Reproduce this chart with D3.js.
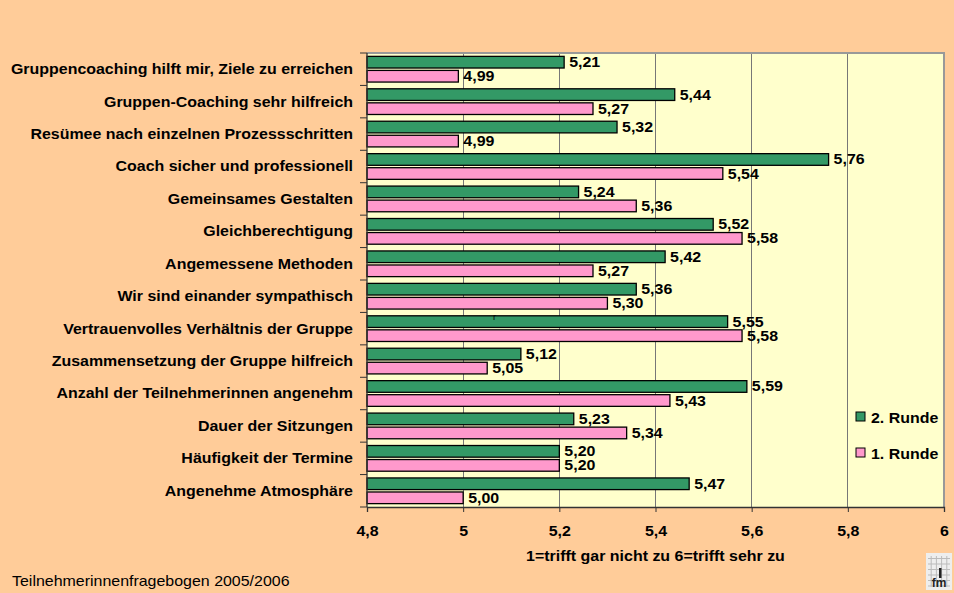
<!DOCTYPE html>
<html><head><meta charset="utf-8">
<script src="https://cdn.jsdelivr.net/npm/d3@7"></script>
<style>html,body{margin:0;padding:0;background:#FFCC99;}svg{display:block;font-family:"Liberation Sans",Arial,sans-serif;}</style>
</head><body>
<svg id="c" width="954" height="593"></svg>
<script>
const categories = [
  "Gruppencoaching hilft mir, Ziele zu erreichen",
  "Gruppen-Coaching sehr hilfreich",
  "Resümee nach einzelnen Prozessschritten",
  "Coach sicher und professionell",
  "Gemeinsames Gestalten",
  "Gleichberechtigung",
  "Angemessene Methoden",
  "Wir sind einander sympathisch",
  "Vertrauenvolles Verhältnis der Gruppe",
  "Zusammensetzung der Gruppe hilfreich",
  "Anzahl der Teilnehmerinnen angenehm",
  "Dauer der Sitzungen",
  "Häufigkeit der Termine",
  "Angenehme Atmosphäre"
];
const runde2 = [5.21,5.44,5.32,5.76,5.24,5.52,5.42,5.36,5.55,5.12,5.59,5.23,5.20,5.47];
const runde1 = [4.99,5.27,4.99,5.54,5.36,5.58,5.27,5.30,5.58,5.05,5.43,5.34,5.20,5.00];
const seriesNames = ["2. Runde","1. Runde"];
const seriesColors = ["#339966","#FF99CC"];
const xTicks = [4.8,5,5.2,5.4,5.6,5.8,6];
const xTitle = "1=trifft gar nicht zu 6=trifft sehr zu";
const footnote = "Teilnehmerinnenfragebogen 2005/2006";

const svg = d3.select("#c");
const L = 367, R = 944, T = 53, B = 507;
const K = 1.14; // horizontal text stretch
const x = d3.scaleLinear().domain([4.8,6]).range([L,R]);
const y0 = d3.scaleBand().domain(categories).range([T,B]).padding(0);
const y1 = d3.scaleBand().domain(seriesNames).range([0,y0.bandwidth()]).paddingInner(0.17).paddingOuter(0.24);
const fmt = d3.format(".2f");
const fmtC = v => fmt(v).replace(".",",");
const fmtT = v => String(v).replace(".",",");

function stretch(sel){
  sel.each(function(){
    const t = d3.select(this);
    const tx = +t.attr("x") || 0, ty = +t.attr("y") || 0;
    t.attr("transform",`translate(${tx},${ty}) scale(${K},1) translate(${-tx},${-ty})`);
  });
}

svg.append("rect").attr("width",954).attr("height",593).attr("fill","#FFCC99");
svg.append("rect").attr("x",L).attr("y",T).attr("width",R-L).attr("height",B-T).attr("fill","#FFFFCC");
svg.append("g").selectAll("line").data(xTicks.slice(1,-1)).join("line")
  .attr("x1",d=>x(d)).attr("x2",d=>x(d)).attr("y1",T).attr("y2",B)
  .attr("stroke","#777").attr("stroke-width",1).attr("shape-rendering","crispEdges");
svg.append("path").attr("d",`M${L},${T}H${R}V${B}`).attr("fill","none").attr("stroke","#999").attr("stroke-width",2).attr("shape-rendering","crispEdges");

const data = categories.map((c,i)=>({c, vals:[{s:seriesNames[0],v:runde2[i],col:seriesColors[0]},{s:seriesNames[1],v:runde1[i],col:seriesColors[1]}]}));
const g = svg.append("g").selectAll("g").data(data).join("g").attr("transform",d=>`translate(0,${y0(d.c)})`);
g.selectAll("rect").data(d=>d.vals).join("rect")
  .attr("x",x(4.8)).attr("y",d=>y1(d.s)).attr("width",d=>x(d.v)-x(4.8)).attr("height",y1.bandwidth())
  .attr("fill",d=>d.col).attr("stroke","#000").attr("stroke-width",1.3);
g.selectAll("text").data(d=>d.vals).join("text")
  .attr("x",d=>x(d.v)+5).attr("y",d=>y1(d.s)+y1.bandwidth()/2+5)
  .attr("font-size",14).attr("font-weight","bold").attr("fill","#000").text(d=>fmtC(d.v))
  .call(stretch);

const yAxis = svg.append("g");
yAxis.append("line").attr("x1",L).attr("x2",L).attr("y1",T).attr("y2",B).attr("stroke","#333").attr("stroke-width",1.3);
yAxis.selectAll("line.t").data(d3.range(categories.length+1)).join("line").attr("class","t")
  .attr("x1",L-7).attr("x2",L).attr("y1",i=>T+i*y0.step()).attr("y2",i=>T+i*y0.step()).attr("stroke","#333");
yAxis.selectAll("text").data(categories).join("text")
  .attr("x",353).attr("y",d=>y0(d)+y0.bandwidth()/2+5).attr("text-anchor","end")
  .attr("font-size",14).attr("font-weight","bold").text(d=>d)
  .call(stretch);

const xAxis = svg.append("g").attr("transform",`translate(0,${B})`)
  .call(d3.axisBottom(x).tickValues(xTicks).tickFormat(fmtT).tickSize(5).tickPadding(14));
xAxis.select(".domain").attr("stroke","#333").attr("stroke-width",1.3);
xAxis.selectAll(".tick line").attr("stroke","#333");
xAxis.selectAll("text").attr("font-size",14).attr("font-weight","bold").attr("font-family","'Liberation Sans', Arial, sans-serif").attr("fill","#000")
  .attr("transform",`scale(${K},1)`).attr("x",0);

svg.append("text").attr("x",(L+R)/2).attr("y",561).attr("text-anchor","middle")
  .attr("font-size",14).attr("font-weight","bold").text(xTitle).call(stretch);

const leg = svg.append("g").selectAll("g").data(seriesNames).join("g")
  .attr("transform",(d,i)=>`translate(856,${412+i*36})`);
leg.append("rect").attr("width",9).attr("height",9).attr("fill",(d,i)=>seriesColors[i]).attr("stroke","#000").attr("stroke-width",1);
leg.append("text").attr("x",15).attr("y",10.5).attr("font-size",14).attr("font-weight","bold").text(d=>d).call(stretch);

svg.append("text").attr("x",493).attr("y",320).attr("font-size",9).text("r");

svg.append("text").attr("x",12).attr("y",586).attr("font-size",14).text(footnote).call(stretch);

const lg = svg.append("g").attr("transform","translate(926,553)");
lg.append("rect").attr("width",26).attr("height",37).attr("fill","#eee");
lg.selectAll("line.h").data(d3.range(1,7)).join("line").attr("x1",2).attr("x2",24).attr("y1",d=>d*5.5).attr("y2",d=>d*5.5).attr("stroke","#bbb");
lg.selectAll("line.v").data(d3.range(1,5)).join("line").attr("x1",d=>d*5.2).attr("x2",d=>d*5.2).attr("y1",3).attr("y2",34).attr("stroke","#bbb");
lg.append("text").attr("x",13).attr("y",34).attr("text-anchor","middle").attr("font-size",12).attr("font-weight","bold").attr("fill","#222").text("fm");
lg.append("rect").attr("x",13).attr("y",15).attr("width",2.5).attr("height",10).attr("fill","#222");
</script>
</body></html>
